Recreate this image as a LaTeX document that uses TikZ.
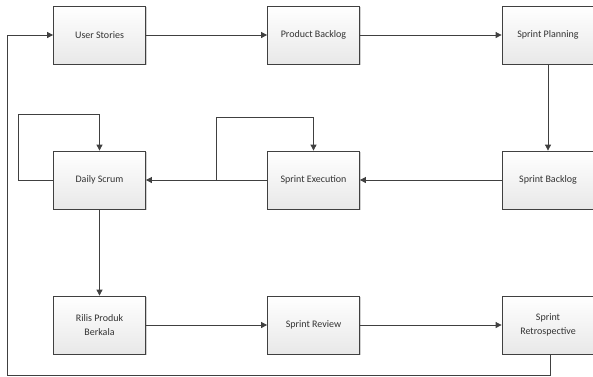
\documentclass[tikz,border=0pt]{standalone}
\usepackage{fontspec}
\setmainfont{Carlito}
\usetikzlibrary{arrows.meta,shadows}
\definecolor{ln}{HTML}{404040}
\tikzset{
  box/.style={draw=ln, line width=0.8pt, top color=white, bottom color=black!9,
    minimum width=92pt, minimum height=58pt, inner sep=2pt, align=center,
    font=\fontsize{10}{14}\selectfont, text=black!80,
    drop shadow={shadow xshift=1.2pt, shadow yshift=-1.2pt, fill=black!30, opacity=0.6}},
  conn/.style={draw=ln, line width=0.8pt, -{Triangle[length=6pt,width=6pt]}},
  plain/.style={draw=ln, line width=0.8pt}
}
\begin{document}
\begin{tikzpicture}[x=1pt,y=-1pt]
\useasboundingbox (0,0) rectangle (593,376);
\node[box] (us) at (99.5,35) {User Stories};
\node[box] (pb) at (313.5,35) {Product Backlog};
\node[box] (sp) at (548,35) {Sprint Planning};
\node[box] (ds) at (99.5,180) {Daily Scrum};
\node[box] (se) at (313.5,180) {Sprint Execution};
\node[box] (sb) at (548,180) {Sprint Backlog};
\node[box] (rp) at (99.5,325) {Rilis Produk\\Berkala};
\node[box] (sr) at (313.5,325) {Sprint Review};
\node[box] (sx) at (548,325) {Sprint\\Retrospective};
\coordinate (br) at (216,180);
\draw[conn] (us) -- (pb);
\draw[conn] (pb) -- (sp);
\draw[conn] (sp) -- (sb);
\draw[conn] (sb) -- (se);
\draw[conn] (se) -- (ds);
\draw[conn] (ds) -- (rp);
\draw[conn] (rp) -- (sr);
\draw[conn] (sr) -- (sx);
\draw[conn] (ds.west) -- (18,180) -- (18,114) -| (ds.north);
\draw[conn] (br) -- (216,117) -| (se.north);
\draw[conn] (sx.south -| 550,0) -- (550,375) -- (7,375) -- (7,35) -- (us.west);
\end{tikzpicture}
\end{document}
